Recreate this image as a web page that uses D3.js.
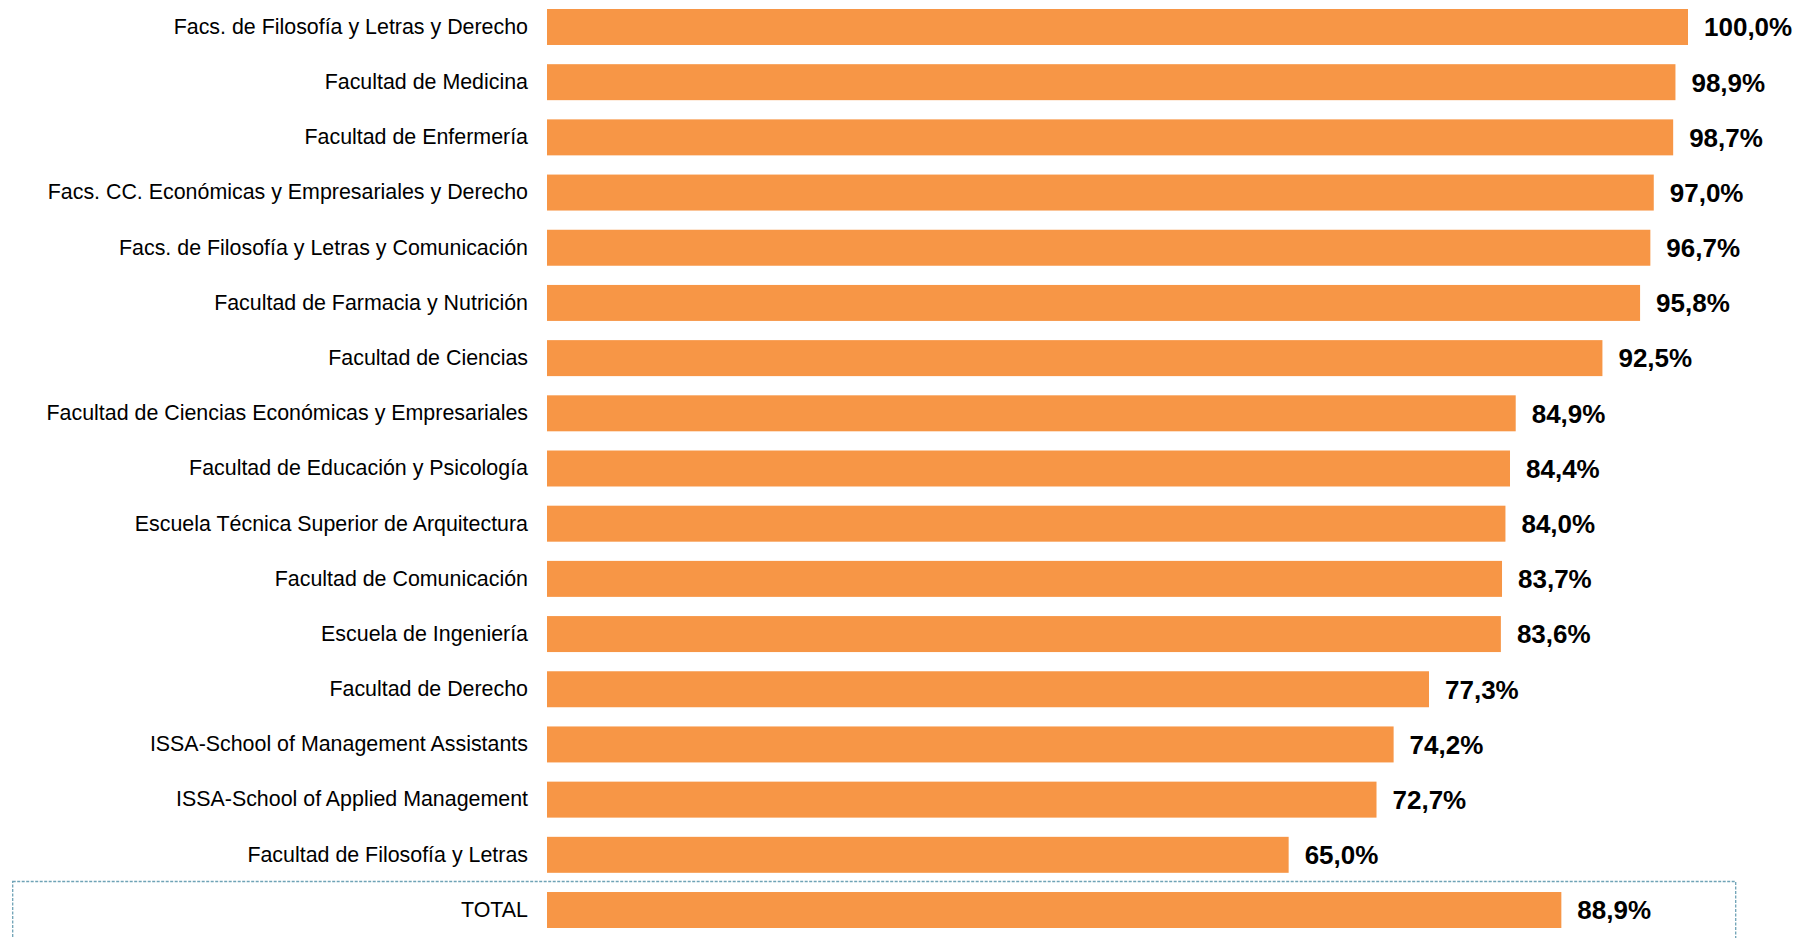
<!DOCTYPE html>
<html><head><meta charset="utf-8">
<script src="https://cdn.jsdelivr.net/npm/d3@7"></script>
<style>body{margin:0;background:#fff}svg{display:block}</style>
</head><body>
<script>
const categories = [
  "Facs. de Filosofía y Letras y Derecho",
  "Facultad de Medicina",
  "Facultad de Enfermería",
  "Facs. CC. Económicas y Empresariales y Derecho",
  "Facs. de Filosofía y Letras y Comunicación",
  "Facultad de Farmacia y Nutrición",
  "Facultad de Ciencias",
  "Facultad de Ciencias Económicas y Empresariales",
  "Facultad de Educación y Psicología",
  "Escuela Técnica Superior de Arquitectura",
  "Facultad de Comunicación",
  "Escuela de Ingeniería",
  "Facultad de Derecho",
  "ISSA-School of Management Assistants",
  "ISSA-School of Applied Management",
  "Facultad de Filosofía y Letras",
  "TOTAL"
];
const values = [100.0, 98.9, 98.7, 97.0, 96.7, 95.8, 92.5, 84.9, 84.4, 84.0, 83.7, 83.6, 77.3, 74.2, 72.7, 65.0, 88.9];

const W = 1796, H = 938;
const svg = d3.select("body").append("svg").attr("width", W).attr("height", H);

const x = d3.scaleLinear().domain([0, 100]).range([547, 1688]);
const y = d3.scaleBand().domain(categories).range([9, 928]).paddingInner(0.348).paddingOuter(0);

// dashed box around TOTAL
svg.append("rect")
  .attr("x", 12.7).attr("y", 881.5).attr("width", 1723).attr("height", 80)
  .attr("fill", "none").attr("stroke", "#6fa3b6").attr("stroke-width", 1.3)
  .attr("stroke-dasharray", "3,1.5");

svg.selectAll("rect.bar").data(categories).join("rect")
  .attr("class", "bar")
  .attr("x", x(0)).attr("y", d => y(d))
  .attr("width", (d, i) => x(values[i]) - x(0))
  .attr("height", y.bandwidth())
  .attr("fill", "#f79646");

const axis = svg.append("g").attr("transform", `translate(${x(0)},0)`)
  .call(d3.axisLeft(y).tickSize(0).tickPadding(19));
axis.select(".domain").remove();
axis.selectAll("text")
  .attr("font-family", "Liberation Sans, Arial, sans-serif")
  .attr("font-size", "21.4px").attr("fill", "#000");

svg.selectAll("text.val").data(categories).join("text")
  .attr("class", "val")
  .attr("x", (d, i) => x(values[i]) + 16)
  .attr("y", d => y(d) + y.bandwidth() / 2)
  .attr("dy", "0.36em")
  .attr("font-family", "Liberation Sans, Arial, sans-serif")
  .attr("font-weight", "bold").attr("font-size", "26px").attr("fill", "#000")
  .text((d, i) => values[i].toFixed(1).replace(".", ",") + "%");
</script>
</body></html>
